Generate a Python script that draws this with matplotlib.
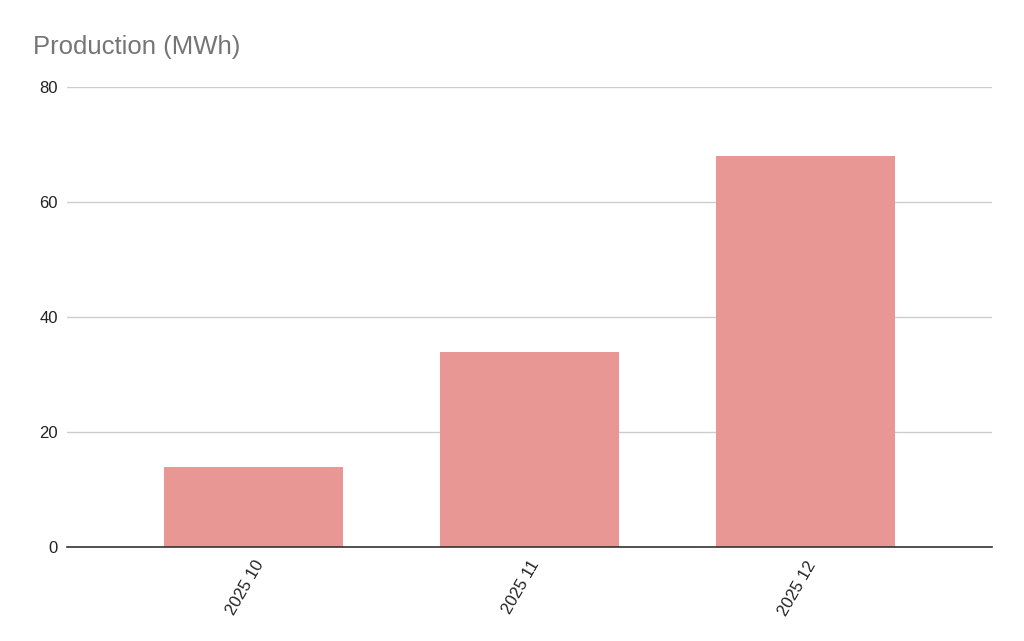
import matplotlib.pyplot as plt

plt.rcParams['font.family'] = ['Liberation Sans', 'DejaVu Sans']

# Data
months = ["2025 10", "2025 11", "2025 12"]
production = [14, 34, 68]
y_ticks = [0, 20, 40, 60, 80]

fig = plt.figure(figsize=(10.24, 6.41), dpi=100)
ax = fig.add_axes([0.0654, 0.1466, 0.9034, 0.7177])

x = range(len(months))
ax.bar(x, production, width=0.65, color='#e89795', zorder=2)

ax.set_xlim(-0.675, 2.675)
ax.set_ylim(0, 80)
ax.set_yticks(y_ticks)
ax.set_yticklabels([str(v) for v in y_ticks], fontsize=12, color='#222222')
ax.set_xticks(list(x))
ax.set_xticklabels(months, rotation=60, ha='right', rotation_mode='anchor',
                   fontsize=12, color='#222222')
ax.tick_params(axis='both', length=0)
ax.tick_params(axis='y', pad=6.5)
ax.tick_params(axis='x', pad=8)

ax.grid(axis='y', color='#cccccc', linewidth=1, zorder=0)
for side in ['top', 'right', 'left']:
    ax.spines[side].set_visible(False)
ax.spines['bottom'].set_color('#333333')
ax.spines['bottom'].set_linewidth(1.2)
ax.spines['bottom'].set_zorder(3)

fig.text(0.032, 0.927, "Production (MWh)", fontsize=18.5, color='#757575',
         ha='left', va='center')

plt.savefig("out.png", dpi=100)
